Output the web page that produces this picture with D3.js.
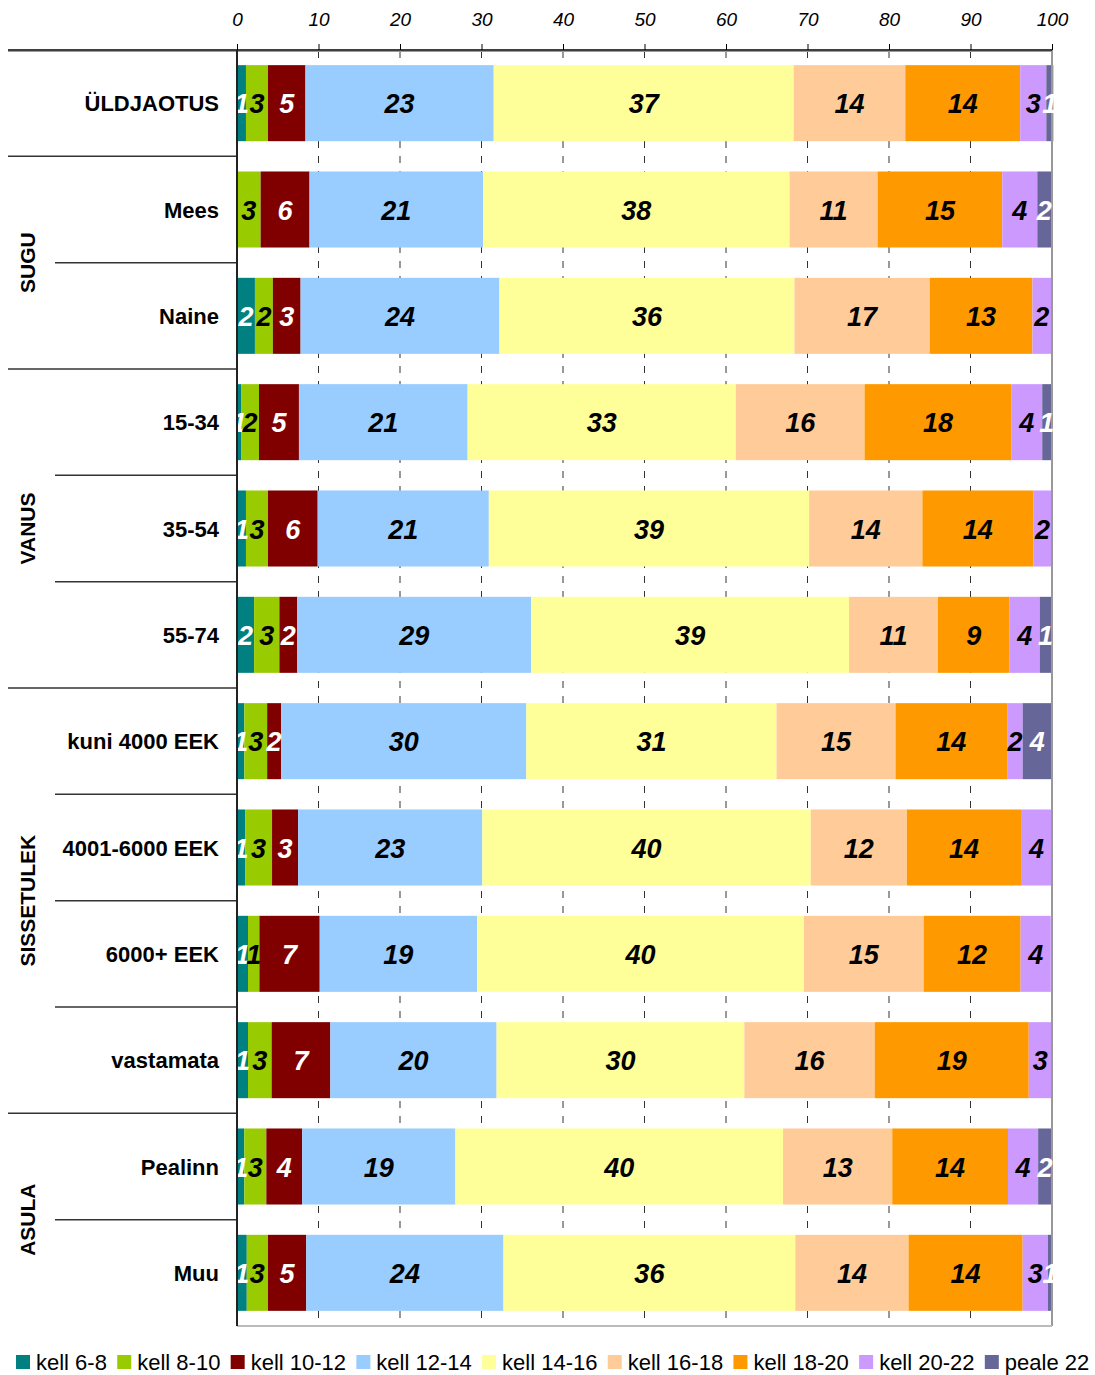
<!DOCTYPE html>
<html>
<head>
<meta charset="utf-8">
<script src="https://cdn.jsdelivr.net/npm/d3@7"></script>
<style>
  html, body { margin: 0; padding: 0; background: #fff; }
  svg { display: block; font-family: Arial, "Liberation Sans", sans-serif; }
</style>
</head>
<body>
<svg id="chart" width="1095" height="1375"></svg>
<script>
// ---------- data ----------
const categories = ["ÜLDJAOTUS", "Mees", "Naine", "15-34", "35-54", "55-74",
  "kuni 4000 EEK", "4001-6000 EEK", "6000+ EEK", "vastamata", "Pealinn", "Muu"];
const groupNames = ["", "SUGU", "VANUS", "SISSETULEK", "ASULA"];
const groupOfCategory = [0, 1, 1, 2, 2, 2, 3, 3, 3, 3, 4, 4];
const seriesNames = ["kell 6-8", "kell 8-10", "kell 10-12", "kell 12-14", "kell 14-16",
  "kell 16-18", "kell 18-20", "kell 20-22", "peale 22"];
const kell6_8   = [1.1, 0,    2.2,  0.5,  1.1,  2.1,  0.9,  1.0,  1.35, 1.35, 0.9,  1.2];
const kell8_10  = [2.7, 2.9,  2.2,  2.2,  2.7,  3.1,  2.8,  3.3,  1.4,  2.9,  2.7,  2.6];
const kell10_12 = [4.6, 6.0,  3.4,  4.9,  6.1,  2.2,  1.7,  3.2,  7.4,  7.2,  4.4,  4.7];
const kell12_14 = [23.1, 21.3, 24.4, 20.7, 21.0, 28.7, 30.1, 22.6, 19.3, 20.4, 18.8, 24.2];
const kell14_16 = [36.8, 37.6, 36.2, 32.9, 39.3, 39.0, 30.7, 40.3, 40.1, 30.4, 40.2, 35.8];
const kell16_18 = [13.7, 10.8, 16.6, 15.8, 13.9, 10.9, 14.6, 11.8, 14.7, 16.0, 13.4, 13.9];
const kell18_20 = [14.1, 15.3, 12.6, 18.0, 13.6, 8.8,  13.7, 14.0, 11.9, 18.9, 14.2, 14.0];
const kell20_22 = [3.2, 4.3,  2.3,  3.8,  2.3,  3.7,  1.9,  3.8,  3.7,  2.8,  3.7,  3.1];
const peale22   = [0.86, 1.7, 0,    1.1,  0,    1.4,  3.6,  0,    0,    0,    1.7,  0.5];
const seriesValues = [kell6_8, kell8_10, kell10_12, kell12_14, kell14_16, kell16_18, kell18_20, kell20_22, peale22];
const tickValues = [0, 10, 20, 30, 40, 50, 60, 70, 80, 90, 100];

// ---------- styles ----------
const colors = ["#008080", "#99CC00", "#800000", "#99CCFF", "#FFFF99", "#FFCC99", "#FF9900", "#CC99FF", "#666699"];
const labelColors = ["#fff", "#000", "#fff", "#000", "#000", "#000", "#000", "#000", "#fff"];

const svg = d3.select("#chart");
const pLeft = 237, pRight = 1052, pTop = 50, pBottom = 1326;

const x = d3.scaleLinear().domain([0, 100]).range([pLeft, pRight]);
const y = d3.scaleBand().domain(categories).range([pTop, pBottom]).paddingInner(0.285).paddingOuter(0.1425);
const step = y.step();

// stacked data
const table = categories.map((c, i) => {
  const o = { category: c };
  seriesNames.forEach((s, j) => o[s] = seriesValues[j][i]);
  return o;
});
const stacked = d3.stack().keys(seriesNames)(table);

// gridlines (dashed)
svg.append("g").selectAll("line")
  .data(tickValues.filter(v => v > 0 && v < 100))
  .join("line")
  .attr("x1", d => x(d)).attr("x2", d => x(d))
  .attr("y1", pTop + 1).attr("y2", pBottom)
  .attr("stroke", "#333").attr("stroke-width", 1)
  .attr("stroke-dasharray", "7,8");

// bars
const layers = svg.append("g").selectAll("g")
  .data(stacked).join("g")
  .attr("fill", (d, i) => colors[i]);
layers.selectAll("rect")
  .data(d => d)
  .join("rect")
  .attr("x", d => x(d[0]))
  .attr("width", d => x(d[1]) - x(d[0]))
  .attr("y", d => y(d.data.category))
  .attr("height", y.bandwidth());

// frame lines
svg.append("line").attr("x1", pRight).attr("x2", pRight).attr("y1", pTop).attr("y2", pBottom)
  .attr("stroke", "#999").attr("stroke-width", 2);
svg.append("line").attr("x1", pLeft).attr("x2", pRight).attr("y1", pBottom).attr("y2", pBottom)
  .attr("stroke", "#bbb").attr("stroke-width", 2);

// segment labels
const labelLayers = svg.append("g").selectAll("g")
  .data(stacked).join("g")
  .attr("fill", (d, i) => labelColors[i]);
labelLayers.selectAll("text")
  .data(d => d.filter(s => s[1] - s[0] > 0))
  .join("text")
  .attr("x", d => (x(d[0]) + x(d[1])) / 2)
  .attr("y", d => y(d.data.category) + y.bandwidth() / 2 + 10)
  .attr("text-anchor", "middle")
  .style("font-size", "27px").style("font-weight", "bold").style("font-style", "italic")
  .text(d => Math.round(d[1] - d[0]));

// top axis
const axis = d3.axisTop(x).tickValues(tickValues).tickSize(6).tickPadding(18).tickFormat(d3.format("d"));
const ax = svg.append("g").attr("transform", `translate(0,${pTop})`).call(axis);
ax.select(".domain").remove();
ax.selectAll(".tick line").attr("stroke", "#000").attr("stroke-width", 1);
ax.selectAll(".tick text").style("font-size", "19px").style("font-style", "italic")
  .style("font-family", "Arial, 'Liberation Sans', sans-serif").attr("fill", "#000");

// top horizontal line
svg.append("line").attr("x1", 8).attr("x2", pRight).attr("y1", pTop + 1.5).attr("y2", pTop + 1.5)
  .attr("stroke", "#999").attr("stroke-width", 1);
svg.append("line").attr("x1", 8).attr("x2", pRight).attr("y1", pTop).attr("y2", pTop)
  .attr("stroke", "#000").attr("stroke-width", 1.5);

// separators on the left
svg.append("g").selectAll("line")
  .data(categories.slice(1))
  .join("line")
  .attr("x1", (d, i) => groupOfCategory[i + 1] !== groupOfCategory[i] ? 8 : 55)
  .attr("x2", pLeft)
  .attr("y1", d => y(d) - step * 0.1425)
  .attr("y2", d => y(d) - step * 0.1425)
  .attr("stroke", "#333").attr("stroke-width", 1.5);

// left axis line
svg.append("line").attr("x1", pLeft).attr("x2", pLeft).attr("y1", pTop).attr("y2", pBottom)
  .attr("stroke", "#222").attr("stroke-width", 2);

// category labels
svg.append("g").selectAll("text")
  .data(categories).join("text")
  .attr("x", 219)
  .attr("y", d => y(d) + y.bandwidth() / 2 + 8)
  .attr("text-anchor", "end")
  .style("font-size", "22px").style("font-weight", "bold")
  .text(d => d);

// group labels
const groupInfo = groupNames.map((g, gi) => {
  const idx = groupOfCategory.map((v, i) => v === gi ? i : -1).filter(i => i >= 0);
  const y0 = y(categories[idx[0]]) - step * 0.1425;
  const y1 = y(categories[idx[idx.length - 1]]) + y.bandwidth() + step * 0.1425;
  return { name: g, cy: (y0 + y1) / 2 };
}).filter(d => d.name);
svg.append("g").selectAll("text")
  .data(groupInfo).join("text")
  .attr("transform", d => `translate(35,${d.cy}) rotate(-90)`)
  .attr("text-anchor", "middle")
  .style("font-size", "21px").style("font-weight", "bold")
  .text(d => d.name);

// legend
const legend = svg.append("g");
let lx = 16;
seriesNames.forEach((s, i) => {
  legend.append("rect").attr("x", lx).attr("y", 1355).attr("width", 14).attr("height", 14).attr("fill", colors[i]);
  const t = legend.append("text").attr("x", lx + 20).attr("y", 1370)
    .style("font-size", "22px").text(s);
  lx += 20 + t.node().getComputedTextLength() + 10.3;
});
</script>
</body>
</html>
